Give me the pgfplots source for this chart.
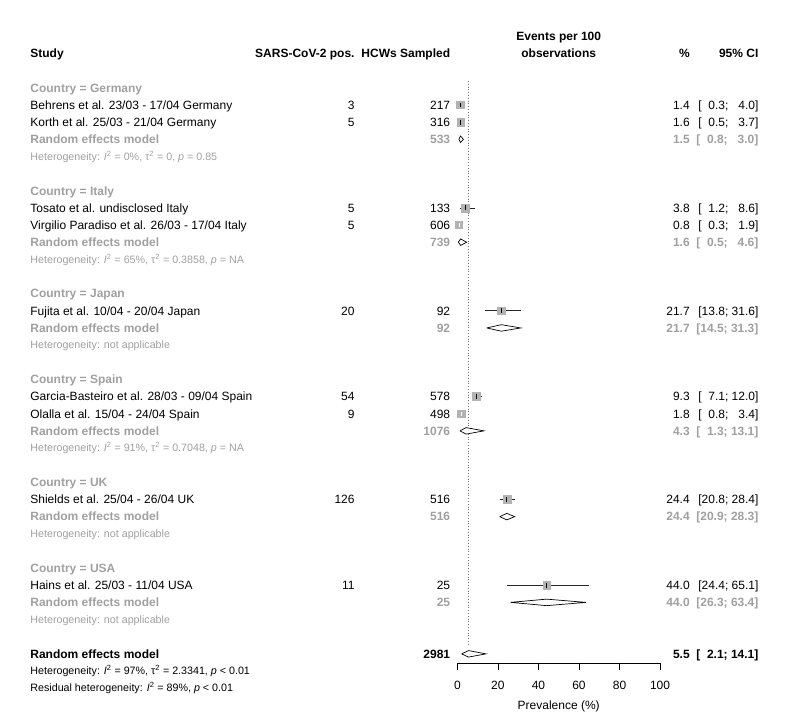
\documentclass[border=0pt]{standalone}
\usepackage{pgfplots}
\pgfplotsset{compat=1.18}
\usepackage{fontspec}
\setmainfont{Liberation Sans}
\definecolor{txtgray}{RGB}{160,160,160}
\definecolor{sqgray}{RGB}{178,178,178}
\definecolor{refline}{RGB}{120,120,120}
\newcommand{\mf}{\fontsize{12}{14}\selectfont}
\newcommand{\hf}{\fontsize{10.7}{12.8}\selectfont}
\newcommand{\pz}{\phantom{0}}
\newcommand{\Isq}{\textit{I}\textsuperscript{2}}
\newcommand{\tsq}{τ\textsuperscript{2}}
\tikzset{
  lt/.style={anchor=base west, inner sep=0pt, yshift=-4.3pt, font=\mf},
  rt/.style={anchor=base east, inner sep=0pt, yshift=-4.3pt, font=\mf},
  ct/.style={anchor=base, inner sep=0pt, yshift=-4.3pt, font=\mf},
  hs/.style={anchor=base west, inner sep=0pt, yshift=-3.8pt, font=\hf},
  g/.style={text=txtgray},
  b/.style={font=\mf\bfseries},
  sq/.style={only marks, mark=square*, mark options={fill=sqgray, draw=sqgray}},
  ci/.style={black!85, line width=0.7pt},
  est/.style={only marks, mark=|, mark size=2.4pt, mark options={black, line width=0.8pt}},
  dia/.style={black, fill=white, line width=0.7pt, line join=miter},
  axln/.style={black, line width=0.8pt},
}
\begin{document}
\begin{tikzpicture}
\begin{axis}[
  x=2.027pt, y=17.15pt,
  xmin=-225.6, xmax=163.1, ymin=-36.98, ymax=5.12,
  hide axis,
  clip=false,
]
% x axis: line and ticks
\addplot[axln] coordinates {(0,-33.53)(100,-33.53)};
\addplot[axln] coordinates {(0,-33.53)(0,-33.96)};
\addplot[axln] coordinates {(20,-33.53)(20,-33.96)};
\addplot[axln] coordinates {(40,-33.53)(40,-33.96)};
\addplot[axln] coordinates {(60,-33.53)(60,-33.96)};
\addplot[axln] coordinates {(80,-33.53)(80,-33.96)};
\addplot[axln] coordinates {(100,-33.53)(100,-33.96)};

% reference line at overall estimate
\addplot[refline, dotted, line width=0.8pt] coordinates {(5.5,0.4)(5.5,-32.5)};

% ---- studies: square, CI line, estimate tick
% Behrens
\addplot[sq, mark size=3.6pt] coordinates {(1.4,-1)};
\addplot[ci] coordinates {(0.3,-1)(4.0,-1)};
\addplot[est] coordinates {(1.4,-1)};
% Korth
\addplot[sq, mark size=3.7pt] coordinates {(1.6,-2)};
\addplot[ci] coordinates {(0.5,-2)(3.7,-2)};
\addplot[est] coordinates {(1.6,-2)};
% Tosato
\addplot[sq, mark size=4.0pt] coordinates {(3.8,-7)};
\addplot[ci] coordinates {(1.2,-7)(8.6,-7)};
\addplot[est] coordinates {(3.8,-7)};
% Virgilio Paradiso (CI inside the square, drawn white)
\addplot[sq, mark size=3.6pt] coordinates {(0.8,-8)};
\addplot[white, line width=0.7pt] coordinates {(0.3,-8)(1.9,-8)};
\addplot[only marks, mark=|, mark size=1.8pt, mark options={white, line width=0.7pt}] coordinates {(0.8,-8)};
% Fujita
\addplot[sq, mark size=3.8pt] coordinates {(21.7,-13)};
\addplot[ci] coordinates {(13.8,-13)(31.6,-13)};
\addplot[est] coordinates {(21.7,-13)};
% Garcia-Basteiro
\addplot[sq, mark size=4.0pt] coordinates {(9.3,-18)};
\addplot[ci] coordinates {(7.1,-18)(12.0,-18)};
\addplot[est] coordinates {(9.3,-18)};
% Olalla (CI inside the square, drawn white)
\addplot[sq, mark size=3.9pt] coordinates {(1.8,-19)};
\addplot[white, line width=0.7pt] coordinates {(0.8,-19)(3.4,-19)};
\addplot[only marks, mark=|, mark size=1.8pt, mark options={white, line width=0.7pt}] coordinates {(1.8,-19)};
% Shields
\addplot[sq, mark size=4.1pt] coordinates {(24.4,-24)};
\addplot[ci] coordinates {(20.8,-24)(28.4,-24)};
\addplot[est] coordinates {(24.4,-24)};
% Hains
\addplot[sq, mark size=3.8pt] coordinates {(44.0,-29)};
\addplot[ci] coordinates {(24.4,-29)(65.1,-29)};
\addplot[est] coordinates {(44.0,-29)};

% ---- pooled diamonds (lo, est, hi), closed by repeating the first point
\addplot[dia] coordinates {(0.8,-3)(1.5,-2.81)(3.0,-3)(1.5,-3.19)(0.8,-3)};
\addplot[dia] coordinates {(0.5,-9)(1.6,-8.81)(4.6,-9)(1.6,-9.19)(0.5,-9)};
\addplot[dia] coordinates {(14.5,-14)(21.7,-13.81)(31.3,-14)(21.7,-14.19)(14.5,-14)};
\addplot[dia] coordinates {(1.3,-20)(4.3,-19.81)(13.1,-20)(4.3,-20.19)(1.3,-20)};
\addplot[dia] coordinates {(20.9,-25)(24.4,-24.81)(28.3,-25)(24.4,-25.19)(20.9,-25)};
\addplot[dia] coordinates {(26.3,-30)(44.0,-29.81)(63.4,-30)(44.0,-30.19)(26.3,-30)};
\addplot[dia] coordinates {(2.1,-33)(5.5,-32.81)(14.1,-33)(5.5,-33.19)(2.1,-33)};

% tick labels and axis title
\node[ct] at (axis cs:0,-34.84) {0};
\node[ct] at (axis cs:20,-34.84) {20};
\node[ct] at (axis cs:40,-34.84) {40};
\node[ct] at (axis cs:60,-34.84) {60};
\node[ct] at (axis cs:80,-34.84) {80};
\node[ct] at (axis cs:100,-34.84) {100};
\node[ct] at (axis cs:50,-35.97) {Prevalence (\%)};

% ---- header
\node[ct, b] at (axis cs:50,3) {Events per 100};
\node[lt, b] at (axis cs:-210.7,2) {Study};
\node[rt, b] at (axis cs:-50.6,2) {SARS-CoV-2 pos.};
\node[rt, b] at (axis cs:-3.45,2) {HCWs Sampled};
\node[ct, b] at (axis cs:50,2) {observations};
\node[rt, b] at (axis cs:114.7,2) {\%};
\node[rt, b] at (axis cs:148.6,2) {95\% CI};

% ---- Germany
\node[lt, b, g] at (axis cs:-210.7,0) {Country = Germany};
\node[lt] at (axis cs:-210.7,-1) {Behrens et al. 23/03 - 17/04 Germany};
\node[rt] at (axis cs:-50.6,-1) {3};
\node[rt] at (axis cs:-3.45,-1) {217};
\node[rt] at (axis cs:114.7,-1) {1.4};
\node[rt] at (axis cs:148.6,-1) {[\pz0.3; \pz4.0]};
\node[lt] at (axis cs:-210.7,-2) {Korth et al. 25/03 - 21/04 Germany};
\node[rt] at (axis cs:-50.6,-2) {5};
\node[rt] at (axis cs:-3.45,-2) {316};
\node[rt] at (axis cs:114.7,-2) {1.6};
\node[rt] at (axis cs:148.6,-2) {[\pz0.5; \pz3.7]};
\node[lt, b, g] at (axis cs:-210.7,-3) {Random effects model};
\node[rt, b, g] at (axis cs:-3.45,-3) {533};
\node[rt, b, g] at (axis cs:114.7,-3) {1.5};
\node[rt, b, g] at (axis cs:148.6,-3) {[\pz0.8; \pz3.0]};
\node[hs, g] at (axis cs:-210.7,-4) {Heterogeneity: \Isq{} = 0\%, \tsq{} = 0, \textit{p} = 0.85};

% ---- Italy
\node[lt, b, g] at (axis cs:-210.7,-6) {Country = Italy};
\node[lt] at (axis cs:-210.7,-7) {Tosato et al. undisclosed Italy};
\node[rt] at (axis cs:-50.6,-7) {5};
\node[rt] at (axis cs:-3.45,-7) {133};
\node[rt] at (axis cs:114.7,-7) {3.8};
\node[rt] at (axis cs:148.6,-7) {[\pz1.2; \pz8.6]};
\node[lt] at (axis cs:-210.7,-8) {Virgilio Paradiso et al. 26/03 - 17/04 Italy};
\node[rt] at (axis cs:-50.6,-8) {5};
\node[rt] at (axis cs:-3.45,-8) {606};
\node[rt] at (axis cs:114.7,-8) {0.8};
\node[rt] at (axis cs:148.6,-8) {[\pz0.3; \pz1.9]};
\node[lt, b, g] at (axis cs:-210.7,-9) {Random effects model};
\node[rt, b, g] at (axis cs:-3.45,-9) {739};
\node[rt, b, g] at (axis cs:114.7,-9) {1.6};
\node[rt, b, g] at (axis cs:148.6,-9) {[\pz0.5; \pz4.6]};
\node[hs, g] at (axis cs:-210.7,-10) {Heterogeneity: \Isq{} = 65\%, \tsq{} = 0.3858, \textit{p} = NA};

% ---- Japan
\node[lt, b, g] at (axis cs:-210.7,-12) {Country = Japan};
\node[lt] at (axis cs:-210.7,-13) {Fujita et al. 10/04 - 20/04 Japan};
\node[rt] at (axis cs:-50.6,-13) {20};
\node[rt] at (axis cs:-3.45,-13) {92};
\node[rt] at (axis cs:114.7,-13) {21.7};
\node[rt] at (axis cs:148.6,-13) {[13.8; 31.6]};
\node[lt, b, g] at (axis cs:-210.7,-14) {Random effects model};
\node[rt, b, g] at (axis cs:-3.45,-14) {92};
\node[rt, b, g] at (axis cs:114.7,-14) {21.7};
\node[rt, b, g] at (axis cs:148.6,-14) {[14.5; 31.3]};
\node[hs, g] at (axis cs:-210.7,-15) {Heterogeneity: not applicable};

% ---- Spain
\node[lt, b, g] at (axis cs:-210.7,-17) {Country = Spain};
\node[lt] at (axis cs:-210.7,-18) {Garcia-Basteiro et al. 28/03 - 09/04 Spain};
\node[rt] at (axis cs:-50.6,-18) {54};
\node[rt] at (axis cs:-3.45,-18) {578};
\node[rt] at (axis cs:114.7,-18) {9.3};
\node[rt] at (axis cs:148.6,-18) {[\pz7.1; 12.0]};
\node[lt] at (axis cs:-210.7,-19) {Olalla et al. 15/04 - 24/04 Spain};
\node[rt] at (axis cs:-50.6,-19) {9};
\node[rt] at (axis cs:-3.45,-19) {498};
\node[rt] at (axis cs:114.7,-19) {1.8};
\node[rt] at (axis cs:148.6,-19) {[\pz0.8; \pz3.4]};
\node[lt, b, g] at (axis cs:-210.7,-20) {Random effects model};
\node[rt, b, g] at (axis cs:-3.45,-20) {1076};
\node[rt, b, g] at (axis cs:114.7,-20) {4.3};
\node[rt, b, g] at (axis cs:148.6,-20) {[\pz1.3; 13.1]};
\node[hs, g] at (axis cs:-210.7,-21) {Heterogeneity: \Isq{} = 91\%, \tsq{} = 0.7048, \textit{p} = NA};

% ---- UK
\node[lt, b, g] at (axis cs:-210.7,-23) {Country = UK};
\node[lt] at (axis cs:-210.7,-24) {Shields et al. 25/04 - 26/04 UK};
\node[rt] at (axis cs:-50.6,-24) {126};
\node[rt] at (axis cs:-3.45,-24) {516};
\node[rt] at (axis cs:114.7,-24) {24.4};
\node[rt] at (axis cs:148.6,-24) {[20.8; 28.4]};
\node[lt, b, g] at (axis cs:-210.7,-25) {Random effects model};
\node[rt, b, g] at (axis cs:-3.45,-25) {516};
\node[rt, b, g] at (axis cs:114.7,-25) {24.4};
\node[rt, b, g] at (axis cs:148.6,-25) {[20.9; 28.3]};
\node[hs, g] at (axis cs:-210.7,-26) {Heterogeneity: not applicable};

% ---- USA
\node[lt, b, g] at (axis cs:-210.7,-28) {Country = USA};
\node[lt] at (axis cs:-210.7,-29) {Hains et al. 25/03 - 11/04 USA};
\node[rt] at (axis cs:-50.6,-29) {11};
\node[rt] at (axis cs:-3.45,-29) {25};
\node[rt] at (axis cs:114.7,-29) {44.0};
\node[rt] at (axis cs:148.6,-29) {[24.4; 65.1]};
\node[lt, b, g] at (axis cs:-210.7,-30) {Random effects model};
\node[rt, b, g] at (axis cs:-3.45,-30) {25};
\node[rt, b, g] at (axis cs:114.7,-30) {44.0};
\node[rt, b, g] at (axis cs:148.6,-30) {[26.3; 63.4]};
\node[hs, g] at (axis cs:-210.7,-31) {Heterogeneity: not applicable};

% ---- overall
\node[lt, b] at (axis cs:-210.7,-33) {Random effects model};
\node[rt, b] at (axis cs:-3.45,-33) {2981};
\node[rt, b] at (axis cs:114.7,-33) {5.5};
\node[rt, b] at (axis cs:148.6,-33) {[\pz2.1; 14.1]};
\node[hs] at (axis cs:-210.7,-34) {Heterogeneity: \Isq{} = 97\%, \tsq{} = 2.3341, \textit{p} < 0.01};
\node[hs] at (axis cs:-210.7,-35) {Residual heterogeneity: \Isq{} = 89\%, \textit{p} < 0.01};

% page extent (788 x 722 px)
\path (axis cs:-225.6,5.12) rectangle (axis cs:163.1,-36.98);
\end{axis}
\end{tikzpicture}
\end{document}
